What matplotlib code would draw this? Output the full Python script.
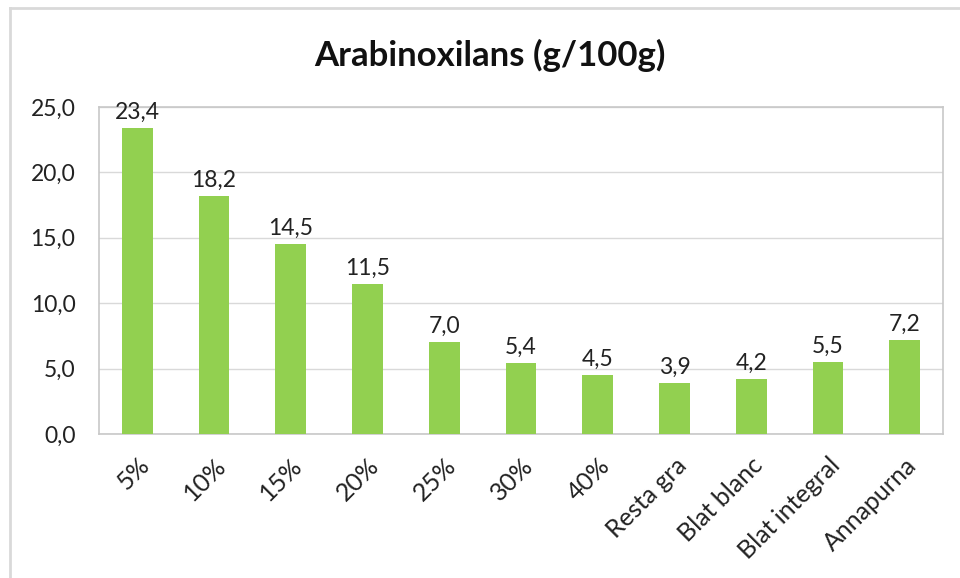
import matplotlib
matplotlib.use("Agg")
import matplotlib.pyplot as plt
from matplotlib.lines import Line2D

categories = ["5%", "10%", "15%", "20%", "25%", "30%", "40%", "Resta gra",
              "Blat blanc", "Blat integral", "Annapurna"]
values = [23.4, 18.2, 14.5, 11.5, 7.0, 5.4, 4.5, 3.9, 4.2, 5.5, 7.2]
yticks = [0, 5, 10, 15, 20, 25]
title = "Arabinoxilans (g/100g)"

plt.rcParams['font.family'] = ['Lato', 'DejaVu Sans']

fig = plt.figure(figsize=(9.6, 5.78), dpi=100)
W, H = 960, 578
ax = fig.add_axes([99 / W, 1 - 434 / H, (943 - 99) / W, (434 - 107) / H])

x = list(range(len(categories)))
ax.bar(x, values, width=0.4, color="#92D050", zorder=3)
for xi, v in zip(x, values):
    ax.text(xi, v + 0.4, f"{v:.1f}".replace(".", ","), ha="center", va="bottom",
            fontsize=16.5, color="#222222", zorder=4)

ax.set_xlim(-0.5, len(categories) - 0.5)
ax.set_ylim(0, 25)
ax.set_yticks(yticks)
ax.set_yticklabels([f"{t:.1f}".replace(".", ",") for t in yticks], fontsize=16.5, color="#222222")
ax.set_xticks(x)
ax.set_xticklabels(categories, rotation=45, ha="right", rotation_mode="anchor",
                   fontsize=18, color="#222222")
ax.tick_params(axis="both", length=0)
ax.tick_params(axis="y", pad=17)
ax.tick_params(axis="x", pad=14)
ax.yaxis.grid(True, color="#D9D9D9", linewidth=1, zorder=0)
for s in ax.spines.values():
    s.set_color("#C8C8C8")
    s.set_linewidth(1.2)

fig.text(490 / W, 1 - 55 / H, title, ha="center", va="center", fontsize=25,
         fontweight="bold", color="#111111")

# outer chart border
fig.add_artist(Line2D([10 / W, 10 / W], [0, 1 - 8 / H], transform=fig.transFigure,
                      color="#D9D9D9", linewidth=2))
fig.add_artist(Line2D([10 / W, 1], [1 - 8 / H, 1 - 8 / H], transform=fig.transFigure,
                      color="#D9D9D9", linewidth=2))

fig.savefig("out.png", dpi=100)
